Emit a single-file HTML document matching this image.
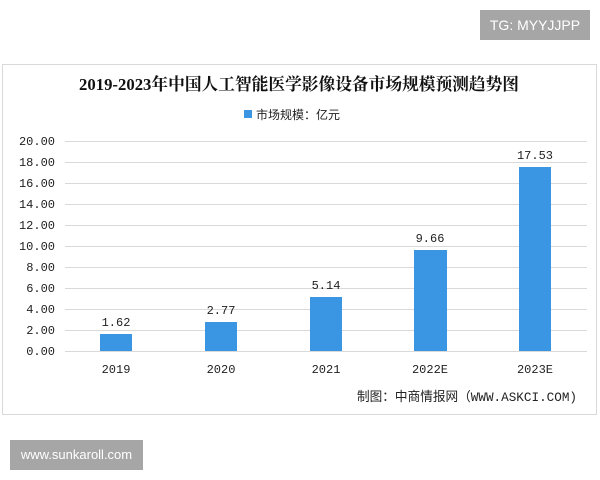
<!DOCTYPE html>
<html><head><meta charset="utf-8"><style>
body{margin:0;width:600px;height:480px;background:#fff;position:relative;overflow:hidden;font-family:"Liberation Serif","Noto Serif CJK SC",serif}
.tg{position:absolute;left:480px;top:10px;width:110px;height:30px;background:#a6a6a6;color:#fff;font:14px "Liberation Sans",sans-serif;line-height:30px;text-align:center}
.ws{position:absolute;left:10px;top:440px;width:133px;height:30px;background:#a6a6a6;color:#fff;font:13px "Liberation Sans",sans-serif;line-height:30px;text-align:center}
</style></head><body>
<div class="tg">TG: MYYJJPP</div>
<svg width="600" height="480" style="position:absolute;left:0;top:0">
<rect x="2.5" y="64.5" width="594" height="350" fill="none" stroke="#d9d9d9"/>
<text x="299" y="90" text-anchor="middle" font-size="17" font-weight="bold" font-family="Liberation Serif,Noto Serif CJK SC,serif" fill="#111" textLength="440" lengthAdjust="spacingAndGlyphs">2019-2023年中国人工智能医学影像设备市场规模预测趋势图</text>
<rect x="244" y="110" width="8" height="8" fill="#3a96e2"/>
<text x="256" y="119" font-size="12" font-family="Liberation Sans,Noto Sans CJK SC,sans-serif" fill="#222">市场规模：亿元</text>
<g stroke="#d9d9d9" stroke-width="1">
<line x1="65" x2="587" y1="141.5" y2="141.5"/><line x1="65" x2="587" y1="162.5" y2="162.5"/><line x1="65" x2="587" y1="183.5" y2="183.5"/><line x1="65" x2="587" y1="204.5" y2="204.5"/><line x1="65" x2="587" y1="225.5" y2="225.5"/><line x1="65" x2="587" y1="246.5" y2="246.5"/><line x1="65" x2="587" y1="267.5" y2="267.5"/><line x1="65" x2="587" y1="288.5" y2="288.5"/><line x1="65" x2="587" y1="309.5" y2="309.5"/><line x1="65" x2="587" y1="330.5" y2="330.5"/><line x1="65" x2="587" y1="351.5" y2="351.5"/>
</g>
<g font-size="12" font-family="Liberation Mono,monospace" fill="#222" text-anchor="end">
<text x="55" y="145">20.00</text><text x="55" y="166">18.00</text><text x="55" y="187">16.00</text><text x="55" y="208">14.00</text><text x="55" y="229">12.00</text><text x="55" y="250">10.00</text><text x="55" y="271">8.00</text><text x="55" y="292">6.00</text><text x="55" y="313">4.00</text><text x="55" y="334">2.00</text><text x="55" y="355">0.00</text>
</g>
<g fill="#3a96e2">
<rect x="100" y="334" width="32" height="17"/>
<rect x="205" y="322" width="32" height="29"/>
<rect x="310" y="297" width="32" height="54"/>
<rect x="414" y="250" width="33" height="101"/>
<rect x="519" y="167" width="32" height="184"/>
</g>
<g font-size="12" font-family="Liberation Mono,monospace" fill="#222" text-anchor="middle">
<text x="116" y="326">1.62</text><text x="221" y="314">2.77</text><text x="326" y="289">5.14</text><text x="430" y="242">9.66</text><text x="535" y="159">17.53</text>
<text x="116" y="373">2019</text><text x="221" y="373">2020</text><text x="326" y="373">2021</text><text x="430" y="373">2022E</text><text x="535" y="373">2023E</text>
</g>
<text x="357" y="401" font-size="13" font-family="Liberation Mono,Noto Sans CJK SC,sans-serif" fill="#222" textLength="220" lengthAdjust="spacingAndGlyphs">制图：中商情报网（WWW.ASKCI.COM)</text>
</svg>
<div class="ws">www.sunkaroll.com</div>
</body></html>
